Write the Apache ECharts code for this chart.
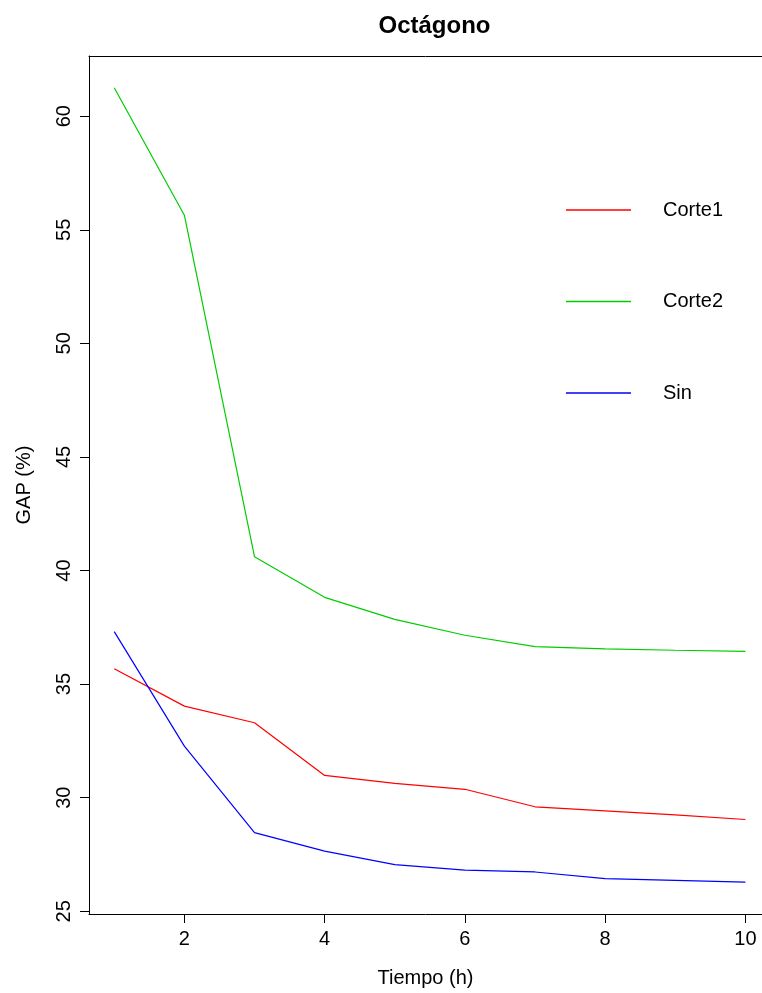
<!DOCTYPE html>
<html>
<head>
<meta charset="utf-8">
<script src="https://cdn.jsdelivr.net/npm/echarts@6/dist/echarts.min.js"></script>
<style>html,body{margin:0;padding:0;background:#fff}#c{width:762px;height:993px}</style>
</head>
<body>
<div id="c"></div>
<script>
const tiempo = [1,2,3,4,5,6,7,8,9,10];
const corte1 = [35.68,34.03,33.30,30.98,30.63,30.37,29.60,29.42,29.24,29.04];
const corte2 = [61.25,55.64,40.61,38.82,37.85,37.15,36.65,36.55,36.49,36.44];
const sin    = [37.31,32.27,28.46,27.65,27.05,26.81,26.73,26.44,26.36,26.28];
const xTicks = [2,4,6,8,10];
const yTicks = [25,30,35,40,45,50,55,60];
const seriesNames = ['Corte1','Corte2','Sin'];
const seriesColors = ['#FF0000','#00CD00','#0000FF'];
const seriesData = [corte1, corte2, sin];

const FONT = 'Liberation Sans';
const chart = echarts.init(document.getElementById('c'), null, {renderer:'canvas'});
chart.setOption({
  backgroundColor:'#fff',
  animation:false,
  textStyle:{fontFamily:FONT},
  title:{
    text:'Octágono', left:429.5, textAlign:'center', top:9,
    textStyle:{fontFamily:FONT, fontWeight:'bold', fontSize:24, color:'#000'}
  },
  legend:{
    orient:'vertical', left:561, top:195,
    icon:'rect',
    itemWidth:65, itemHeight:1.4, itemGap:71.5,
    itemStyle:{borderWidth:0},
    data:seriesNames,
    textStyle:{fontFamily:FONT, fontSize:20, lineHeight:20, color:'#000', padding:[0,0,0,27]}
  },
  grid:{left:89, top:56, right:0, height:858, show:false},
  xAxis:[{
    type:'value', min:0.64, max:10.237,
    name:'Tiempo (h)', nameLocation:'middle', nameGap:54,
    nameTextStyle:{fontFamily:FONT, fontSize:20, color:'#000'},
    axisLine:{show:true, onZero:false, lineStyle:{color:'#000', width:1}},
    axisTick:{show:true, inside:false, length:9, customValues:xTicks, lineStyle:{color:'#000'}},
    axisLabel:{show:true, margin:15, customValues:xTicks, fontFamily:FONT, fontSize:20, color:'#000'},
    splitLine:{show:false}
  },{
    type:'value', min:0.64, max:10.237, position:'top',
    axisLine:{show:true, onZero:false, lineStyle:{color:'#000', width:1}},
    axisTick:{show:false}, axisLabel:{show:false}, splitLine:{show:false}
  }],
  yAxis:{
    type:'value', min:24.88, max:62.65,
    name:'GAP (%)', nameLocation:'middle', nameGap:55, nameRotate:90,
    nameTextStyle:{fontFamily:FONT, fontSize:20, color:'#000'},
    axisLine:{show:true, onZero:false, lineStyle:{color:'#000', width:1}},
    axisTick:{show:true, inside:false, length:9, customValues:yTicks, lineStyle:{color:'#000'}},
    axisLabel:{show:true, rotate:90, margin:15, customValues:yTicks, fontFamily:FONT, fontSize:20, color:'#000'},
    splitLine:{show:false}
  },
  series:seriesNames.map((n,i)=>({
    name:n, type:'line', symbol:'none', showSymbol:false,
    xAxisIndex:0,
    data:tiempo.map((t,j)=>[t, seriesData[i][j]]),
    lineStyle:{color:seriesColors[i], width:1.2},
    itemStyle:{color:seriesColors[i]}
  }))
});
</script>
</body>
</html>
